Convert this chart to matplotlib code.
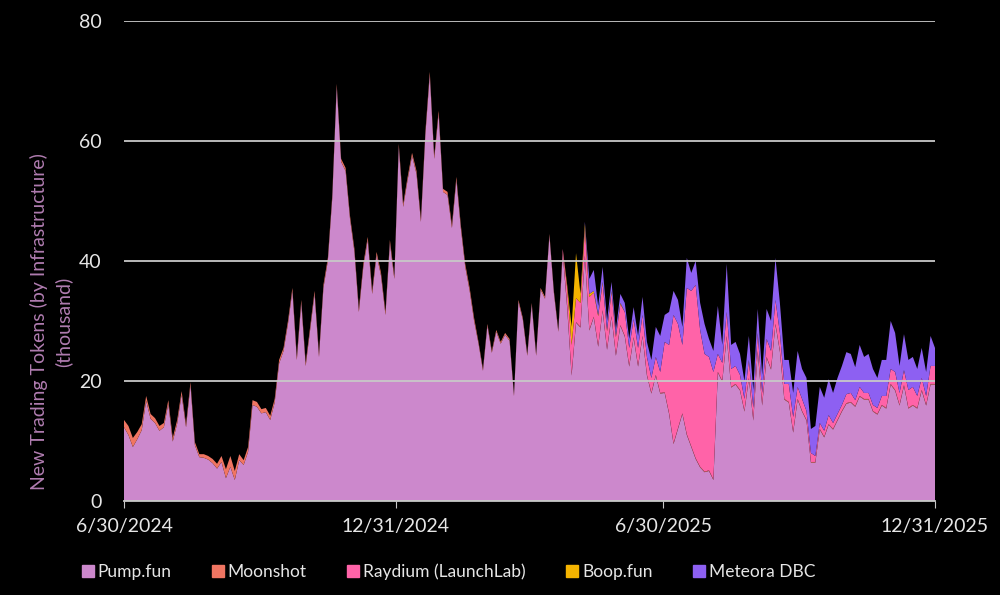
import matplotlib
matplotlib.use("Agg")
import matplotlib.pyplot as plt
from matplotlib.lines import Line2D
import pandas as pd

# 3-day samples, 6/30/2024 .. 12/31/2025, thousand tokens
dates = pd.date_range("2024-06-30", periods=184, freq="3D")

pump = [12.3, 11.0, 9.0, 10.3, 11.8, 16.7, 13.7, 13.0, 11.7, 12.3,
        16.2, 9.9, 12.9, 17.7, 12.3, 19.3, 9.3, 7.3, 7.2, 6.9,
        6.3, 5.4, 6.5, 3.8, 5.7, 3.5, 6.8, 6.0, 8.2, 16.0,
        15.7, 14.6, 14.8, 13.5, 16.4, 22.9, 25.0, 29.5, 35.0, 23.5,
        33.0, 22.5, 28.5, 34.5, 24.0, 35.5, 40.0, 50.5, 69.0, 56.5,
        55.0, 47.0, 41.5, 31.5, 39.0, 43.5, 34.5, 41.0, 37.5, 31.0,
        43.0, 37.0, 59.0, 49.0, 53.5, 57.5, 54.5, 46.5, 61.0, 71.0,
        57.0, 64.5, 51.5, 51.0, 45.5, 53.5, 45.5, 39.0, 35.0, 30.0,
        26.2, 21.7, 29.2, 24.7, 28.2, 26.2, 27.7, 26.7, 17.5, 33.2,
        30.2, 24.2, 32.7, 24.2, 35.2, 33.7, 44.2, 34.7, 28.2, 41.2,
        32.2, 20.9, 29.7, 28.9, 40.8, 28.4, 30.6, 25.7, 31.7, 25.2,
        30.7, 24.2, 29.2, 27.4, 22.4, 27.2, 22.4, 27.4, 20.9, 17.9,
        20.9, 17.9, 18.0, 14.5, 9.5, 12.0, 14.5, 11.0, 9.0, 7.0,
        5.6, 4.8, 5.0, 3.5, 21.4, 19.9, 27.4, 18.9, 19.4, 18.4,
        14.9, 20.4, 13.4, 24.9, 15.9, 23.9, 21.9, 29.4, 24.9, 16.9,
        16.4, 11.4, 16.9, 14.9, 13.4, 6.4, 6.4, 11.9, 10.6, 12.7,
        11.9, 13.4, 14.9, 16.2, 16.4, 15.7, 17.4, 16.9, 16.9, 14.9,
        14.4, 15.9, 15.4, 19.4, 18.4, 15.9, 19.2, 15.4, 15.9, 15.4,
        18.4, 15.9, 19.4, 19.4]

moonshot = [1.2, 1.5, 1.5, 1.2, 1.0, 0.8, 0.8, 0.8, 0.8, 0.7,
            0.6, 0.6, 0.6, 0.6, 0.5, 0.5, 0.5, 0.5, 0.6, 0.6,
            0.7, 0.8, 1.0, 1.5, 1.8, 1.5, 1.0, 0.8, 0.8, 0.8,
            0.8, 0.7, 0.7, 0.7, 0.6, 0.6] + [0.5] * 44 + [0.3] * 21 + [0.1] * 83

raydium = [0.0] * 99 + [
    0.5, 3.0, 5.0, 4.0, 4.0, 4.5, 5.5, 4.0, 5.0, 4.5,
    3.0, 4.0, 3.0, 3.5, 4.0, 3.0, 3.0, 3.0, 3.5, 3.0,
    2.5, 3.0, 3.5, 8.4, 11.4, 21.4, 17.4, 11.4, 24.4, 25.9,
    28.9, 22.8, 19.6, 18.9, 17.9, 3.0, 3.0, 4.0, 3.0, 3.0,
    2.5, 2.0, 3.0, 2.0, 3.0, 2.0, 3.0, 3.0, 4.0, 3.0,
    2.5, 3.0, 2.5, 2.0, 2.0, 1.5, 1.5, 1.0, 1.0, 1.0,
    1.5, 1.0, 1.0, 1.0, 1.5, 1.5, 1.0, 1.5, 1.0, 1.0,
    1.0, 1.0, 1.5, 2.0, 2.5, 3.0, 2.0, 2.5, 3.0, 3.0,
    2.0, 2.0, 1.5, 3.0, 3.0]

boop = [0.0] * 100 + [0.5, 3.0, 7.5, 1.5, 0.8, 0.5, 0.3, 0.2, 0.2, 0.2,
                      0.2, 0.2, 0.2] + [0.0] * 71

meteora = [0.0] * 104 + [
    0.3, 2.5, 3.5, 1.5, 2.5, 1.5, 1.5, 1.0, 1.5, 1.5,
    1.5, 2.0, 2.0, 3.0, 2.5, 3.0, 5.0, 6.0, 4.5, 5.5,
    4.0, 4.0, 3.0, 5.0, 3.0, 4.0, 4.5, 5.0, 3.0, 3.5,
    8.0, 3.0, 8.0, 4.0, 4.0, 3.5, 3.0, 4.0, 3.0, 4.0,
    3.0, 5.0, 5.0, 7.0, 5.0, 4.0, 4.0, 4.0, 6.0, 5.0,
    5.5, 4.0, 5.0, 6.0, 5.5, 6.0, 5.0, 6.0, 6.5, 7.0,
    6.5, 5.5, 7.0, 6.0, 6.5, 6.0, 5.0, 6.0, 6.0, 8.0,
    6.5, 4.5, 6.0, 5.0, 5.0, 4.5, 5.0, 4.0, 5.0, 3.0]

names = ["Pump.fun", "Moonshot", "Raydium (LaunchLab)", "Boop.fun", "Meteora DBC"]
colors = ["#cc88cc", "#f07562", "#ff63a8", "#f5b400", "#8d60f2"]
tick_dates = ["2024-06-30", "2024-12-31", "2025-06-30", "2025-12-31"]
tick_labels = ["6/30/2024", "12/31/2024", "6/30/2025", "12/31/2025"]

plt.rcParams["font.family"] = ["Lato", "DejaVu Sans"]

fig = plt.figure(figsize=(10, 5.95), dpi=100, facecolor="black")
ax = fig.add_axes([0.124, 0.158, 0.811, 0.807], facecolor="black")

ax.stackplot(dates, pump, moonshot, raydium, boop, meteora,
             colors=colors, linewidth=0)

ax.set_ylim(0, 80)
ax.set_yticks([0, 20, 40, 60, 80])
ax.set_xlim(pd.Timestamp("2024-06-30"), pd.Timestamp("2025-12-31"))
ax.set_xticks(pd.to_datetime(tick_dates))
ax.set_xticklabels(tick_labels)
ax.grid(axis="y", color="#c8c8c8", linewidth=1.3)
ax.set_axisbelow(False)
for ln in ax.get_ygridlines():
    ln.set_zorder(0.5)

for s in ["top", "right", "left"]:
    ax.spines[s].set_visible(False)
ax.spines["bottom"].set_color("#c8c8c8")
ax.spines["bottom"].set_linewidth(1.3)
ax.spines["bottom"].set_zorder(5)
ax.tick_params(axis="y", length=0, pad=16, labelsize=14, labelcolor="#e6e6e6")
ax.tick_params(axis="x", length=5, color="#c8c8c8", pad=7, labelsize=14,
               labelcolor="#e6e6e6")

fig.text(0.051, 1 - 322 / 595, "New Trading Tokens (by Infrastructure)\n(thousand)",
         rotation=90, ha="center", va="center", multialignment="center",
         color="#b07cb0", fontsize=14, linespacing=1.45)

handles = [Line2D([], [], marker="s", linestyle="none", markersize=8,
                  markerfacecolor=c, markeredgecolor=c) for c in colors]
fig.legend(handles, names, loc="center", bbox_to_anchor=(0.448, 1 - 572 / 595),
           ncol=5, frameon=False, fontsize=12.5, labelcolor="#e6e6e6",
           handletextpad=0.15, columnspacing=2.3, handlelength=0.8)

fig.savefig("out.png", dpi=100, facecolor="black")
